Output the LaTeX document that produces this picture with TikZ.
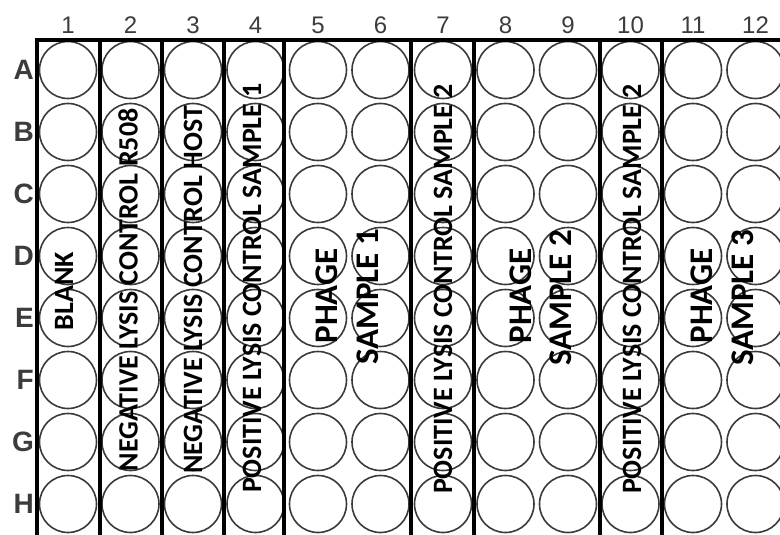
\documentclass[tikz,border=0pt]{standalone}
\usepackage{fontspec}
\setmainfont{Carlito}
\newfontfamily\platefont{Liberation Sans}
\definecolor{wellgray}{HTML}{3A3A3A}
\definecolor{labelgray}{HTML}{3C3C3C}

\begin{document}
\begin{tikzpicture}[x=1pt,y=-1pt]
    \tikzset{
        well/.style={
            draw=wellgray,line width=1.6pt,circle,
            minimum size=57pt,inner sep=0pt
        },
        divider/.style={line width=3.8pt,draw=black},
        colnum/.style={font=\fontsize{24}{26}\selectfont\platefont,
            text=labelgray,inner sep=0pt},
        rowname/.style={font=\fontsize{28}{30}\selectfont\platefont\bfseries,
            text=labelgray,inner sep=0pt,anchor=east},
        lane/.style={font=\bfseries\fontsize{28}{30}\selectfont,
            rotate=90,inner sep=0pt},
        phage/.style={lane,font=\bfseries\fontsize{33}{35}\selectfont}
    }
    \useasboundingbox (0,0) rectangle (780,535);

    % wells
    \foreach \row [count=\r from 0] in {A,B,C,D,E,F,G,H}{
        \node[rowname] (row-\row) at (34,70+62*\r) {\row};
        \foreach \col in {1,...,12}{
            \node[well] (well-\row\col) at (68+62.5*\col-62.5,70+62*\r) {};
        }
    }
    \foreach \col in {1,...,12}{
        \node[colnum] (col-\col) at (68+62.5*\col-62.5,25) {\col};
    }

    % plate frame
    \coordinate (frame-nw) at (35.1,40);
    \coordinate (frame-ne) at (780,40);
    \draw[divider] (frame-nw) -- (frame-ne);
    \foreach \x in {37,100,162,224,284,411,474,600,662}{
        \draw[divider] (\x,38.1) -- (\x,535);
    }

    % lane labels
    \node[lane] (blank) at (64,291) {BLANK};
    \node[lane] (neg-r508) at (128,290) {NEGATIVE LYSIS CONTROL R508};
    \node[lane] (neg-host) at (193,290) {NEGATIVE LYSIS CONTROL HOST};
    \node[lane] (pos-1) at (252,288) {POSITIVE LYSIS CONTROL SAMPLE 1};
    \node[phage] (phage-1) at (327,296) {PHAGE};
    \node[phage] (sample-1) at (368,297) {SAMPLE 1};
    \node[lane] (pos-2) at (443,289) {POSITIVE LYSIS CONTROL SAMPLE 2};
    \node[phage] (phage-2) at (521,296) {PHAGE};
    \node[phage] (sample-2) at (561,298) {SAMPLE 2};
    \node[lane] (pos-3) at (632,289) {POSITIVE LYSIS CONTROL SAMPLE 2};
    \node[phage] (phage-3) at (702,296) {PHAGE};
    \node[phage] (sample-3) at (743,298) {SAMPLE 3};
\end{tikzpicture}
\end{document}
